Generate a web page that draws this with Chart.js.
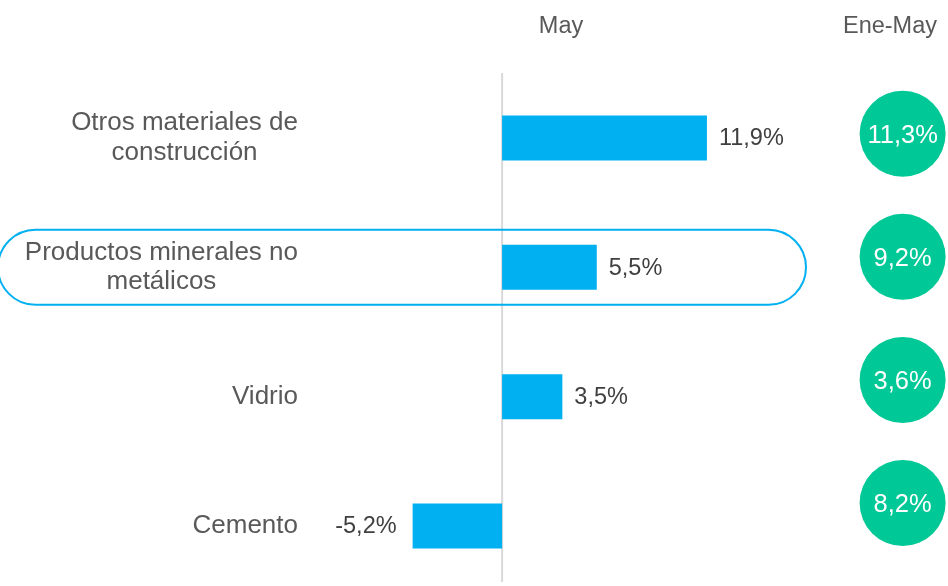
<!DOCTYPE html>
<html>
<head>
<meta charset="utf-8">
<script src="https://cdn.jsdelivr.net/npm/chart.js@4/dist/chart.umd.min.js"></script>
<style>
  body { margin: 0; background: #fff; overflow: hidden; }
  canvas { display: block; }
</style>
</head>
<body>
<canvas id="mychart" width="948" height="586"></canvas>
<script>
// data
const categories = [
    ['Otros materiales de', 'construcción'],
    ['Productos minerales no', 'metálicos'],
    ['Vidrio'],
    ['Cemento']
];
const mayValues = [11.9, 5.5, 3.5, -5.2];
const eneMayValues = [11.3, 9.2, 3.6, 8.2];
const headers = ['May', 'Ene-May'];
const highlightIndex = 1;

const FONT = '"Liberation Sans", Arial, sans-serif';
const BAR_BLUE = '#00b0f0';
const CIRCLE_GREEN = '#00c896';
const ENE_MAY_COL = 23.27;   // x position of the circle column, in axis units

const fmt = (v) => v.toFixed(1).replace('.', ',') + '%';

/**
 * Everything the bars don't draw themselves: labels, zero line, headers.
 */
const extras = {
    id: 'extras',
    beforeDatasetsDraw(chart) {
        const c = chart.ctx;
        const x0 = chart.scales.x.getPixelForValue(0);
        c.save();
        // zero line
        c.strokeStyle = '#d9d9d9';
        c.lineWidth = 2;
        c.beginPath();
        c.moveTo(x0, 73);
        c.lineTo(x0, 582);
        c.stroke();

        // category labels, lines centred, block right aligned
        const yScale = chart.scales.y;
        c.font = '26px ' + FONT;
        c.fillStyle = '#595959';
        c.textAlign = 'center';
        c.textBaseline = 'middle';
        const lh = 29.5;
        categories.forEach((lines, i) => {
            const cy = yScale.getPixelForValue(i);
            const maxW = Math.max(...lines.map((l) => c.measureText(l).width));
            const cx = 298 - maxW / 2;
            lines.forEach((l, j) => {
                c.fillText(l, cx, cy - (lines.length - 1) * lh / 2 + j * lh);
            });
        });

        // column headers
        c.font = '23.5px ' + FONT;
        c.textBaseline = 'alphabetic';
        c.fillText(headers[0], 561, 33);
        c.fillText(headers[1], 890, 33);
        c.restore();
    },
    afterDatasetsDraw(chart) {
        const c = chart.ctx;
        c.save();
        // value labels next to the bars
        c.font = '23.5px ' + FONT;
        c.fillStyle = '#404040';
        c.textBaseline = 'middle';
        chart.getDatasetMeta(0).data.forEach((bar, i) => {
            const v = mayValues[i];
            if (v >= 0) {
                c.textAlign = 'left';
                c.fillText(fmt(v), bar.x + 12, bar.y + 1);
            } else {
                c.textAlign = 'right';
                c.fillText(fmt(v), bar.x - 16, bar.y + 1);
            }
        });

        // text in the green circles
        c.font = '25.5px ' + FONT;
        c.fillStyle = '#ffffff';
        c.textAlign = 'center';
        chart.getDatasetMeta(1).data.forEach((pt, i) => {
            c.fillText(fmt(eneMayValues[i]), pt.x, pt.y + 2);
        });

        // outline round the highlighted row
        const hy = chart.scales.y.getPixelForValue(highlightIndex);
        c.strokeStyle = BAR_BLUE;
        c.lineWidth = 2;
        c.beginPath();
        c.roundRect(-2, hy - 37.5, 808, 75, 37.5);
        c.stroke();
        c.restore();
    }
};

const ctx = document.getElementById('mychart').getContext('2d');

let mychart = new Chart(ctx, {
    data: {
        labels: categories,
        datasets: [{
            type: 'bar',
            data: mayValues,
            backgroundColor: BAR_BLUE,
            borderWidth: 0,
            grouped: false,
            categoryPercentage: 1,
            barPercentage: 0.348,
            clip: false,
            xAxisID: 'x',
            yAxisID: 'y'
        }, {
            type: 'scatter',
            indexAxis: 'x',
            data: eneMayValues.map((v, i) => ({ x: ENE_MAY_COL, y: i })),
            backgroundColor: CIRCLE_GREEN,
            borderWidth: 0,
            pointRadius: 43,
            pointHoverRadius: 43,
            clip: false,
            xAxisID: 'x',
            yAxisID: 'y2'
        }]
    },
    options: {
        indexAxis: 'y',
        responsive: false,
        animation: false,
        events: [],
        layout: { autoPadding: false, padding: { left: 330, right: 7, top: 138, bottom: 60 } },
        plugins: {
            legend: { display: false },
            tooltip: { enabled: false }
        },
        scales: {
            x: { type: 'linear', min: -10, max: 25.5, display: false },
            y: { type: 'category', offset: false, display: false },
            y2: { type: 'linear', reverse: true, min: 0.034, max: 3.187, display: false }
        }
    },
    plugins: [extras]
});
</script>
</body>
</html>
